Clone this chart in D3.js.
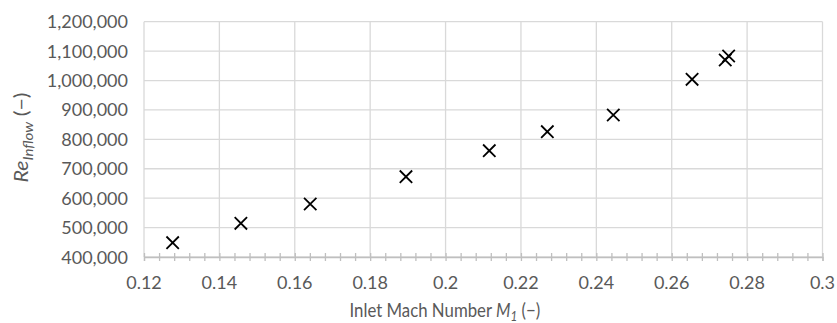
<!DOCTYPE html>
<html><head><meta charset="utf-8">
<script src="https://cdn.jsdelivr.net/npm/d3@7"></script>
<style>body{margin:0;background:#fff}svg text{font-family:Lato,"Liberation Sans",sans-serif;fill:#595959}</style>
</head><body><svg id="c" width="837" height="323"></svg>
<script>
const machValues = [0.1276,0.1457,0.1641,0.1895,0.2116,0.2270,0.2445,0.2654,0.2742,0.2751];
const reValues = [448600,514600,580200,673000,761400,826000,882800,1004200,1069800,1083400];
const xTicks = [0.12,0.14,0.16,0.18,0.2,0.22,0.24,0.26,0.28,0.3];
const yTicks = [400000,500000,600000,700000,800000,900000,1000000,1100000,1200000];

const svg = d3.select("#c");
const x = d3.scaleLinear().domain([0.12,0.3]).range([144,822.5]);
const y = d3.scaleLinear().domain([400000,1200000]).range([257,21.7]);
const fmt = d3.format(",");

// gridlines
svg.append("g").selectAll("line").data(yTicks).join("line")
  .attr("x1",x(0.12)).attr("x2",x(0.3)).attr("y1",d=>y(d)).attr("y2",d=>y(d))
  .attr("stroke","#d9d9d9").attr("stroke-width",1.3);
svg.append("g").selectAll("line").data(xTicks).join("line")
  .attr("x1",d=>x(d)).attr("x2",d=>x(d)).attr("y1",y(400000)).attr("y2",y(1200000))
  .attr("stroke","#d9d9d9").attr("stroke-width",1.3);

// x axis with minor ticks
const minor = d3.range(0,46).map(i=>+(0.12+i*0.004).toFixed(3));
const xAxis = d3.axisBottom(x).tickValues(minor).tickSize(4).tickFormat("");
const gx = svg.append("g").attr("transform",`translate(0,${y(400000)})`).call(xAxis);
gx.select(".domain").attr("stroke","#bfbfbf").attr("stroke-width",1.3);
gx.selectAll(".tick line").attr("stroke","#bfbfbf").attr("stroke-width",1.3).attr("y1",-4).attr("y2",4);

svg.append("g").selectAll("text").data(xTicks).join("text")
  .attr("x",d=>x(d)).attr("y",288.5).attr("text-anchor","middle")
  .attr("font-size",18).text(d=>d3.format("")(d));
svg.append("g").selectAll("text").data(yTicks).join("text")
  .attr("x",128).attr("y",d=>y(d)+6.5).attr("text-anchor","end")
  .attr("font-size",18).text(d=>fmt(d));

// helper: squeeze a text horizontally (in its own frame) to a target length, centered at 0
function fitText(g, t, target){
  const w = t.node().getComputedTextLength();
  t.attr("text-anchor","start").attr("x",0);
  g.attr("data-w",w);
  t.attr("transform",`scale(${target/w},1) translate(${-w/2},0)`);
}

// axis titles
const gxt = svg.append("g").attr("transform","translate(445,316.5)");
const xt = gxt.append("text").attr("font-size",20);
xt.append("tspan").text("Inlet Mach Number ");
xt.append("tspan").attr("font-style","italic").text("M");
xt.append("tspan").attr("font-style","italic").attr("font-size",14).attr("dy",4).text("1");
xt.append("tspan").attr("dy",-4).text(" (\u2212)");
fitText(gxt, xt, 191);

const gyt = svg.append("g").attr("transform","translate(28,137.5) rotate(-90)");
const yt = gyt.append("text").attr("font-size",19);
yt.append("tspan").attr("font-style","italic").text("Re");
yt.append("tspan").attr("font-style","italic").attr("font-size",13.5).attr("dy",4.5).text("Inflow");
yt.append("tspan").attr("dy",-4.5).text(" (\u2212)");
fitText(gyt, yt, 90);

// markers
const s = 6.2;
svg.append("g").selectAll("path").data(machValues.map((m,i)=>[m,reValues[i]])).join("path")
  .attr("d",d=>{const cx=x(d[0]),cy=y(d[1]);return `M${cx-s},${cy-s}L${cx+s},${cy+s}M${cx-s},${cy+s}L${cx+s},${cy-s}`;})
  .attr("stroke","#000").attr("stroke-width",1.8).attr("fill","none");
</script></body></html>
